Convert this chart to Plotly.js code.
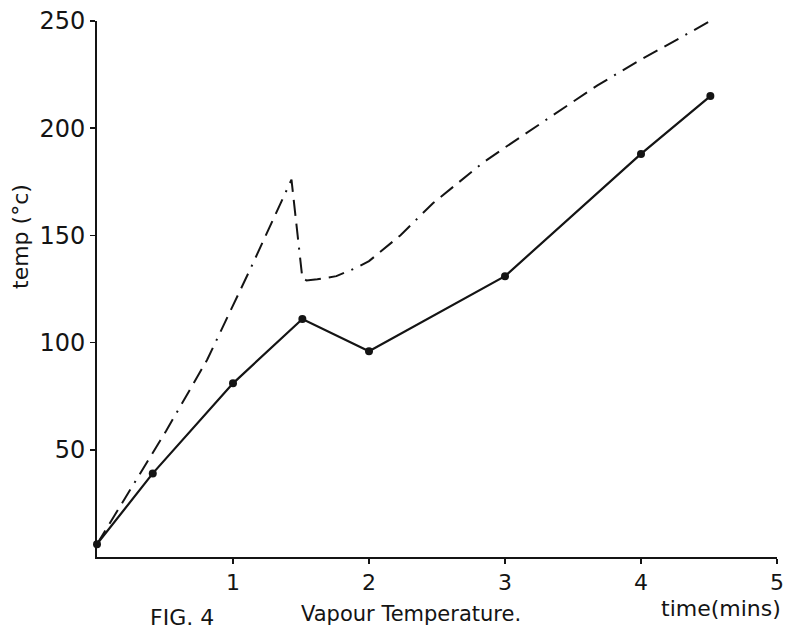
<!DOCTYPE html>
<html>
<head>
<meta charset="utf-8">
<script src="https://cdn.plot.ly/plotly-3.0.1.min.js"></script>
<style>html,body{margin:0;padding:0;background:#fff;}#chart{width:786px;height:633px;}</style>
</head>
<body>
<div id="chart"></div>
<script>
// Solid curve with dot markers
var solidTime = [0, 0.41, 1.0, 1.51, 2.0, 3.0, 4.0, 4.51];
var solidTemp = [6, 39, 81, 111, 96, 131, 188, 215];

// Dash-dot curve
var dashTime = [0, 0.27, 0.51, 0.81, 1.0, 1.125, 1.43, 1.51, 1.54, 1.62, 1.76, 1.91, 2.0, 2.23, 2.47, 2.84, 3.0, 3.68, 4.0, 4.51];
var dashTemp = [6, 34, 59, 92, 117, 134, 176, 130, 129, 129.5, 131, 135, 138, 150, 165, 184, 191, 220, 232, 250];

var xTickVals = [1, 2, 3, 4, 5];
var xTickText = ['1', '2', '3', '4', '5'];
var yTickVals = [50, 100, 150, 200, 250];
var yTickText = ['50', '100', '150', '200', '250'];

var ink = '#141414';
var fontFam = 'DejaVu Sans, sans-serif';

var traces = [
  {
    x: dashTime, y: dashTemp, type: 'scatter', mode: 'lines',
    line: {color: ink, width: 2, dash: '16px,8px,16px,8px,16px,8px,2px,8px'},
    cliponaxis: false, hoverinfo: 'skip'
  },
  {
    x: solidTime, y: solidTemp, type: 'scatter', mode: 'lines+markers',
    line: {color: ink, width: 2.2},
    marker: {color: ink, size: 8},
    cliponaxis: false, hoverinfo: 'skip'
  }
];

function px(p) { return (p - 97) / 680; }
function py(p) { return (557 - p) / 536; }

var layout = {
  width: 786, height: 633,
  margin: {l: 97, r: 9, t: 21, b: 76},
  paper_bgcolor: '#fff', plot_bgcolor: '#fff',
  showlegend: false,
  font: {family: fontFam, color: ink},
  xaxis: {
    range: [0, 5], showgrid: false, zeroline: false,
    showline: true, linecolor: ink, linewidth: 2,
    ticks: 'outside', ticklen: 5, tickwidth: 1.5, tickcolor: ink,
    tickvals: xTickVals, ticktext: xTickText,
    tickfont: {family: fontFam, size: 22, color: ink}
  },
  yaxis: {
    range: [0, 250], showgrid: false, zeroline: false,
    showline: true, linecolor: ink, linewidth: 2,
    ticks: 'outside', ticklen: 5, tickwidth: 1.5, tickcolor: ink,
    tickvals: yTickVals, ticktext: yTickText,
    tickfont: {family: fontFam, size: 24, color: ink}
  },
  annotations: [
    {text: 'temp (°c)', xref: 'paper', yref: 'paper', x: px(20), y: py(237), textangle: -90,
     showarrow: false, xanchor: 'center', yanchor: 'middle', font: {family: fontFam, size: 22, color: ink}},
    {text: 'time(mins)', xref: 'paper', yref: 'paper', x: px(783), y: py(608),
     showarrow: false, xanchor: 'right', yanchor: 'middle', font: {family: fontFam, size: 22, color: ink}},
    {text: 'FIG. 4', xref: 'paper', yref: 'paper', x: px(182), y: py(617),
     showarrow: false, xanchor: 'center', yanchor: 'middle', font: {family: fontFam, size: 22, color: ink}},
    {text: 'Vapour Temperature.', xref: 'paper', yref: 'paper', x: px(411), y: py(614),
     showarrow: false, xanchor: 'center', yanchor: 'middle', font: {family: fontFam, size: 21, color: ink}}
  ]
};

Plotly.newPlot('chart', traces, layout, {displayModeBar: false, staticPlot: true});
</script>
</body>
</html>
